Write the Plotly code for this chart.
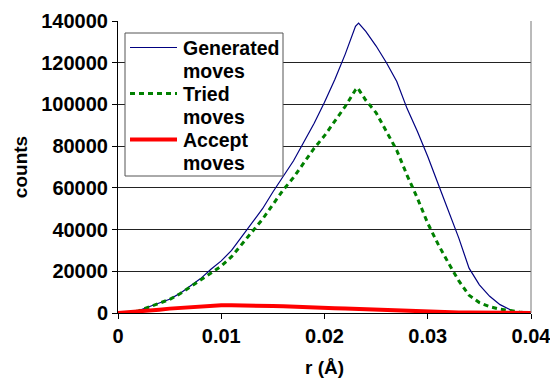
import plotly.graph_objects as go

# r values (Å)
r_gen = [0.000, 0.001, 0.002, 0.003, 0.004, 0.005, 0.006, 0.007, 0.008, 0.009,
         0.010, 0.011, 0.012, 0.013, 0.014, 0.015, 0.016, 0.017, 0.018, 0.019,
         0.020, 0.021, 0.022, 0.023, 0.0233, 0.024, 0.025, 0.026, 0.027, 0.028,
         0.029, 0.030, 0.031, 0.032, 0.033, 0.034, 0.035, 0.036, 0.037, 0.038,
         0.0385, 0.039, 0.040]
generated = [0, 200, 1200, 3000, 4600, 6600, 9400, 13000, 16500, 21000,
             25000, 30000, 36500, 43000, 50000, 58000, 65500, 73000, 82000, 91000,
             101000, 112000, 124000, 137500, 139000, 135000, 128000, 120000, 111000, 98000,
             87000, 75000, 62000, 49000, 36000, 21500, 13500, 8000, 4000, 1500,
             0, 0, 0]

r_tried = [0.000, 0.001, 0.002, 0.003, 0.004, 0.005, 0.006, 0.007, 0.008, 0.009,
           0.010, 0.011, 0.012, 0.013, 0.014, 0.015, 0.016, 0.017, 0.018, 0.019,
           0.020, 0.021, 0.022, 0.023, 0.0232, 0.024, 0.025, 0.026, 0.027, 0.028,
           0.029, 0.030, 0.031, 0.032, 0.033, 0.034, 0.035, 0.036, 0.037, 0.038,
           0.039, 0.040]
tried = [0, 100, 1000, 2800, 4500, 6500, 9200, 12500, 16000, 19500,
         22500, 27000, 33000, 38500, 45000, 52000, 59000, 65000, 72000, 79000,
         85000, 92000, 99000, 107000, 108000, 102000, 96000, 87000, 78000, 66000,
         55000, 43000, 33000, 24000, 15500, 8500, 5000, 3000, 1800, 1200,
         300, 0]

r_acc = [0.000, 0.001, 0.002, 0.003, 0.004, 0.005, 0.006, 0.007, 0.008, 0.009,
         0.010, 0.011, 0.012, 0.013, 0.014, 0.015, 0.016, 0.017, 0.018, 0.019,
         0.020, 0.021, 0.022, 0.023, 0.024, 0.025, 0.026, 0.027, 0.028, 0.029,
         0.030, 0.031, 0.032, 0.033, 0.034, 0.035, 0.036, 0.037, 0.038, 0.039,
         0.040]
accept = [0, 300, 700, 1100, 1600, 2100, 2500, 2900, 3300, 3600,
          3700, 3700, 3700, 3700, 3600, 3300, 3200, 3100, 2900, 2700,
          2500, 2300, 2100, 1900, 1700, 1500, 1200, 1000, 900, 800,
          600, 400, 300, 250, 200, 150, 100, 80, 50, 30,
          0]

series_names = [["Generated", "moves"], ["Tried", "moves"], ["Accept", "moves"]]

x_ticks = [0, 0.01, 0.02, 0.03, 0.04]
x_tick_labels = ["0", "0.01", "0.02", "0.03", "0.04"]
y_ticks = [0, 20000, 40000, 60000, 80000, 100000, 120000, 140000]
y_tick_labels = ["0", "20000", "40000", "60000", "80000", "100000", "120000", "140000"]

FONT = "Liberation Sans, Arial, sans-serif"
W, H = 550, 378
L, R, T, B = 118, 19, 21, 65
PW, PH = W - L - R, H - T - B

def px2paper(px, py):
    return (px - L) / PW, (H - B - py) / PH

styles = [dict(color="#000080", width=1.2),
          dict(color="#008000", width=3, dash="5px,4px"),
          dict(color="#FF0000", width=4)]

fig = go.Figure()
for xs, ys, nm, st in zip([r_gen, r_tried, r_acc], [generated, tried, accept],
                          series_names, styles):
    fig.add_trace(go.Scatter(x=xs, y=ys, mode="lines", name=" ".join(nm),
                             line=st, showlegend=False))

fig.update_layout(
    width=W, height=H,
    margin=dict(l=L, r=R, t=T, b=B),
    paper_bgcolor="white", plot_bgcolor="white",
    font=dict(family=FONT, size=20, color="black", weight="bold"),
    showlegend=False,
    xaxis=dict(range=[0, 0.04], tickvals=x_ticks, ticktext=x_tick_labels,
               showgrid=False, zeroline=False, showline=True, linecolor="black",
               linewidth=1, ticks="outside", ticklen=5, tickcolor="black",
               automargin=False, ticklabeloverflow="allow", tickfont=dict(size=20),
               title=dict(text="r (Å)", font=dict(size=19, weight="bold"), standoff=16)),
    yaxis=dict(range=[0, 140000], tickvals=y_ticks, ticktext=y_tick_labels,
               showgrid=True, gridcolor="#222222", gridwidth=1,
               zeroline=False, showline=True, linecolor="black", linewidth=1,
               ticks="outside", ticklen=5, tickcolor="black",
               automargin=False, ticklabeloverflow="allow", tickfont=dict(size=20),
               title=dict(text="counts", font=dict(size=19, weight="bold"), standoff=8)),
)
# right border of plot area
fig.add_shape(type="line", xref="paper", yref="paper", x0=1, x1=1, y0=0, y1=1,
              line=dict(color="#777777", width=1))

# legend box (drawn manually to match the compact line spacing)
bx0, by0 = px2paper(125, 176)
bx1, by1 = px2paper(283, 33)
fig.add_shape(type="rect", xref="paper", yref="paper", x0=bx0, x1=bx1, y0=by0, y1=by1,
              line=dict(color="#555555", width=1), fillcolor="white", layer="above")
item_top = [47.5, 93.5, 139.5]
for i, (nm, st) in enumerate(zip(series_names, styles)):
    ly = item_top[i]
    sx0, sy = px2paper(130, ly)
    sx1, _ = px2paper(177, ly)
    fig.add_shape(type="line", xref="paper", yref="paper", x0=sx0, x1=sx1, y0=sy, y1=sy,
                  line=st, layer="above")
    for j, word in enumerate(nm):
        tx, ty = px2paper(181, ly + 0.5 + j * 22.7)
        fig.add_annotation(x=tx, y=ty, xref="paper", yref="paper", text=word,
                           showarrow=False, xanchor="left", yanchor="middle",
                           font=dict(family=FONT, size=19.5, color="black", weight="bold"))

fig.write_html("out.html")
